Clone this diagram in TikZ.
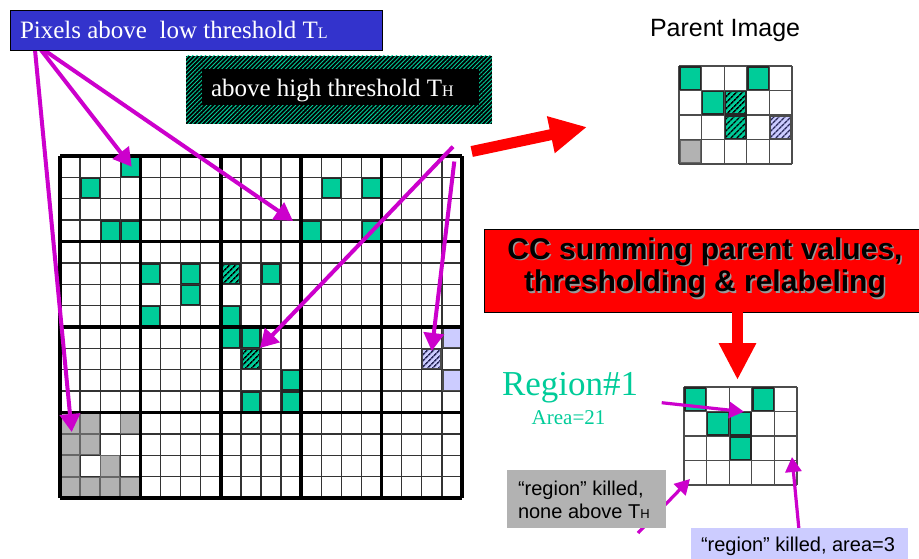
\documentclass[tikz,border=0pt]{standalone}
\usepackage{fontspec}
\setmainfont{Liberation Serif}
\setsansfont{Liberation Sans}
\usetikzlibrary{arrows.meta,patterns.meta}
\definecolor{tealc}{RGB}{0,204,153}
\definecolor{magc}{RGB}{204,0,204}
\definecolor{bluebox}{RGB}{51,51,204}
\definecolor{lavc}{RGB}{204,204,255}
\definecolor{lavdark}{RGB}{40,40,90}
\definecolor{grayc}{RGB}{178,178,178}
\definecolor{redc}{RGB}{255,0,0}
\tikzset{
  thingrid/.style={draw=black!80, line width=1.3pt},
  thickgrid/.style={draw=black, line width=3.6pt, line cap=square},
  smallgrid/.style={draw=black!70, line width=1.3pt},
  tcell/.style={fill=tealc, draw=black!85, line width=1.4pt},
  hcell/.style={preaction={fill=tealc}, pattern={Lines[angle=45,distance=4pt,line width=1.6pt]}, pattern color=black, draw=black!85, line width=1.4pt},
  lcell/.style={fill=lavc, draw=black!70, line width=1.2pt},
  hlcell/.style={preaction={fill=lavc}, pattern={Lines[angle=45,distance=4pt,line width=1.6pt]}, pattern color=lavdark, draw=black!70, line width=1.2pt},
  gcell/.style={fill=grayc, draw=black!60, line width=1.2pt},
  magarrow/.style={draw=magc, line width=4pt, -{Triangle[length=18pt,width=20pt]}},
  magsmall/.style={draw=magc, line width=3.2pt, -{Triangle[length=15pt,width=16pt]}},
  redarrow/.style={draw=redc, line width=11pt, -{Triangle[length=37pt,width=35pt]}},
  boxnode/.style={anchor=north west, inner sep=0pt, outer sep=0pt},
  txt/.style={anchor=base west, inner sep=0pt, outer sep=0pt},
  ccfont/.style={font=\sffamily\bfseries\fontsize{30}{30}\selectfont},
}
\begin{document}
\begin{tikzpicture}[x=1pt,y=-1pt]
\useasboundingbox (0,0) rectangle (919,558);
\clip (0,0) rectangle (919,558);
\fill[white] (0,0) rectangle (919,558);

% ---------------- main grid ----------------
\foreach \i in {0,...,20} \draw[thingrid] ({60+20.1*\i},156) -- ({60+20.1*\i},498);
\foreach \j in {0,...,16} \draw[thingrid] (60,{156+21.375*\j}) -- (462,{156+21.375*\j});
\foreach \c/\r in {3/0,1/1,2/3,3/3,4/5,6/5,6/6,4/7,8/7,8/8,9/8,9/11,13/1,15/1,12/3,15/3,10/5,11/10,11/11}
  \path[tcell] ({60+20.1*\c+1},{156+21.375*\r+1}) rectangle ++(18.1,19.4);
\foreach \c/\r in {8/5,9/9}
  \path[hcell] ({60+20.1*\c+1},{156+21.375*\r+1}) rectangle ++(18.1,19.4);
\foreach \c/\r in {19/8,19/10}
  \path[lcell] ({60+20.1*\c+1},{156+21.375*\r+1}) rectangle ++(18.1,19.4);
\foreach \c/\r in {18/9}
  \path[hlcell] ({60+20.1*\c+1},{156+21.375*\r+1}) rectangle ++(18.1,19.4);
\foreach \c/\r in {0/12,1/12,3/12,0/13,1/13,0/14,2/14,0/15,1/15,2/15,3/15}
  \path[gcell] ({60+20.1*\c+0.5},{156+21.375*\r+0.5}) rectangle ++(19.1,20.4);
\foreach \i in {0,4,...,20} \draw[thickgrid] ({60+20.1*\i},156) -- ({60+20.1*\i},498);
\foreach \j in {0,4,...,16} \draw[thickgrid] (60,{156+21.375*\j}) -- (462,{156+21.375*\j});

% ---------------- parent image ----------------
\foreach \c/\r in {4/2}
  \path[hlcell] ({679+22.6*\c+1},{66+24.5*\r+1}) rectangle ++(20.6,22.5);
\foreach \c/\r in {0/3}
  \path[gcell] ({679+22.6*\c+1},{66+24.5*\r+1}) rectangle ++(20.6,22.5);
\foreach \i in {0,...,5} \draw[smallgrid] ({679+22.6*\i},66) -- ({679+22.6*\i},164);
\foreach \j in {0,...,4} \draw[smallgrid] (679,{66+24.5*\j}) -- (792,{66+24.5*\j});
\foreach \c/\r in {0/0,3/0,1/1}
  \path[tcell] ({679+22.6*\c+1},{66+24.5*\r+1}) rectangle ++(20.6,22.5);
\foreach \c/\r in {2/1,2/2}
  \path[hcell] ({679+22.6*\c+1},{66+24.5*\r+1}) rectangle ++(20.6,22.5);

% ---------------- result grid ----------------
\foreach \i in {0,...,5} \draw[smallgrid] ({684+22.6*\i},387) -- ({684+22.6*\i},485);
\foreach \j in {0,...,4} \draw[smallgrid] (684,{387+24.5*\j}) -- (797,{387+24.5*\j});
\foreach \c/\r in {0/0,3/0,1/1,2/1,2/2}
  \path[tcell] ({684+22.6*\c+1},{387+24.5*\r+1}) rectangle ++(20.6,22.5);

% ---------------- coordinates ----------------
\coordinate (a1s) at (41,50);   \coordinate (a1e) at (131.7,166.7);
\coordinate (a2s) at (44,50);   \coordinate (a2e) at (293,221);
\coordinate (a3s) at (35,50);   \coordinate (a3e) at (71.7,432);
\coordinate (b1s) at (453,146.7); \coordinate (b1e) at (260,348);
\coordinate (b2s) at (454.3,161.5); \coordinate (b2e) at (431.7,351);
\coordinate (c1s) at (661.7,402.7); \coordinate (c1e) at (744,411.7);
\coordinate (c2s) at (638,533); \coordinate (c2e) at (690,479);
\coordinate (c3s) at (799,530); \coordinate (c3e) at (792,457);
\coordinate (r1s) at (471.7,151.5); \coordinate (r1e) at (587,127);

% ---------------- magenta arrows ----------------
\draw[magarrow] (a1s) -- (a1e);
\draw[magarrow] (a2s) -- (a2e);
\draw[magarrow] (a3s) -- (a3e);
\draw[magarrow] (b1s) -- (b1e);
\draw[magarrow] (b2s) -- (b2e);
\draw[magsmall] (c1s) -- (c1e);
\draw[magsmall] (c2s) -- (c2e);
\draw[magsmall] (c3s) -- (c3e);

% ---------------- boxes & texts ----------------
\node[boxnode, draw=black, line width=0.8pt, fill=bluebox, minimum width=372pt, minimum height=40pt] (lowbox) at (10,10) {};
\node[txt, text=white, font=\fontsize{25}{25}\selectfont] (lowtext) at (20,38) {Pixels above\ \ low threshold T{\fontsize{16}{16}\selectfont L}};

\node[boxnode, preaction={fill=black}, pattern={Lines[angle=45,distance=3pt,line width=0.9pt]}, pattern color=tealc, minimum width=306pt, minimum height=68pt] (highbg) at (186,55.7) {};
\node[boxnode, fill=black, minimum width=277pt, minimum height=36pt] (highin) at (201.7,69.3) {};
\node[txt, text=white, font=\fontsize{25}{25}\selectfont] (hightext) at (211,96.7) {above high threshold T{\fontsize{16}{16}\selectfont H}};

\node[txt, font=\sffamily\fontsize{25}{25}\selectfont] (ptitle) at (650,36.7) {Parent Image};

\draw[redarrow] (r1s) -- (r1e);

\node[boxnode, draw=black, line width=1pt, fill=redc, minimum width=445pt, minimum height=83pt] (ccbox) at (484,229) {};
\coordinate (r2s) at (737.5,312);
\coordinate (r2e) at (737.5,380);
\draw[redarrow] (r2s) -- (r2e);
\node[anchor=base, inner sep=0pt, ccfont, text=black!40] (cc1s) at (706.5,260.8) {CC summing parent values,};
\node[anchor=base, inner sep=0pt, ccfont, text=black] (cc1) at (705,259.3) {CC summing parent values,};
\node[anchor=base, inner sep=0pt, ccfont, text=black!40] (cc2s) at (706.5,293.2) {thresholding \& relabeling};
\node[anchor=base, inner sep=0pt, ccfont, text=black] (cc2) at (705,291.7) {thresholding \& relabeling};

\node[txt, text=tealc, font=\fontsize{35}{35}\selectfont] (reg) at (502,395) {Region\#1};
\node[txt, text=tealc, font=\fontsize{21}{21}\selectfont] (area) at (531.7,424.3) {Area=21};

\node[boxnode, fill=grayc, minimum width=159pt, minimum height=58pt] (graybox) at (507,470) {};
\node[txt, font=\sffamily\fontsize{20}{20}\selectfont] (gt1) at (518,495) {“region” killed,};
\node[txt, font=\sffamily\fontsize{20}{20}\selectfont] (gt2) at (518,518) {none above T{\fontsize{13}{13}\selectfont H}};

\node[boxnode, fill=lavc, minimum width=217pt, minimum height=31pt] (lavbox) at (691,528) {};
\node[txt, font=\sffamily\fontsize{20}{20}\selectfont] (lt) at (701,551) {“region” killed, area=3};
\end{tikzpicture}
\end{document}
